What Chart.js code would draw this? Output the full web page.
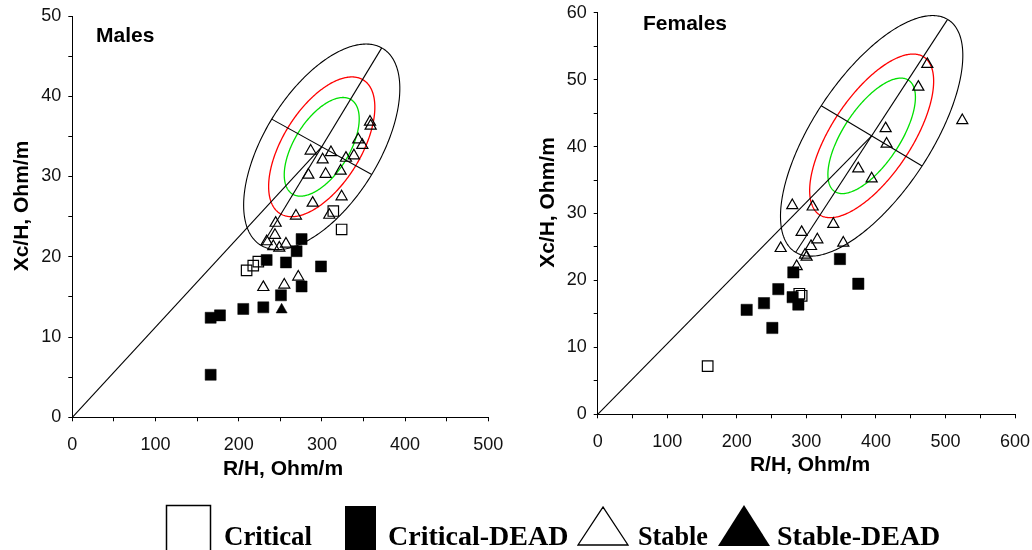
<!DOCTYPE html>
<html>
<head>
<meta charset="utf-8">
<script src="https://cdn.jsdelivr.net/npm/chart.js@4.4.0/dist/chart.umd.min.js"></script>
<style>
html,body{margin:0;padding:0;background:#fff;}
#wrap{position:relative;width:1032px;height:550px;overflow:hidden;background:#fff;}
#c1box{position:absolute;left:0;top:0;width:516px;height:490px;}
#c2box{position:absolute;left:516px;top:0;width:516px;height:490px;}
#legend{position:absolute;left:0;top:0;}
</style>
</head>
<body>
<div id="wrap">
  <div id="c1box"><canvas id="c1"></canvas></div>
  <div id="c2box"><canvas id="c2"></canvas></div>
  <svg id="legend" width="1032" height="550" xmlns="http://www.w3.org/2000/svg">
    <g font-family="'Liberation Serif','Times New Roman',serif" font-weight="bold" font-size="28" fill="#000">
      <rect x="166.5" y="505.5" width="44" height="60" fill="none" stroke="#000" stroke-width="1.5"/>
      <text x="224" y="545" textLength="88" lengthAdjust="spacingAndGlyphs">Critical</text>
      <rect x="345" y="506" width="31" height="60" fill="#000"/>
      <text x="388" y="545">Critical-DEAD</text>
      <polygon points="603,507 578,545 628,545" fill="none" stroke="#000" stroke-width="1.3"/>
      <text x="638" y="545" textLength="70" lengthAdjust="spacingAndGlyphs">Stable</text>
      <polygon points="744,505 718,546 770,546" fill="#000"/>
      <text x="777" y="545">Stable-DEAD</text>
    </g>
  </svg>
</div>
<script>
// ---------- DATA ----------
// Males: [R/H, Xc/H]
const maleCritical = [[313.7,25.7],[323.7,23.4],[209.5,18.3],[217.5,18.9],[223.6,19.4]];
const maleCriticalDead = [[275.6,22.2],[269.6,20.7],[233.6,19.6],[256.8,19.3],[298.9,18.8],[275.6,16.3],[250.8,15.2],[229.6,13.7],[205.5,13.5],[177.5,12.7],[166.3,12.4],[166.3,5.3]];
const maleStable = [[357.8,36.8],[358.6,36.3],[343.7,34.6],[348.6,33.9],[286.5,33.2],[300.9,32.1],[310.9,33.0],[328.9,32.3],[338.5,32.6],[283.7,30.2],[304.5,30.3],[322.5,30.7],[323.7,27.5],[288.9,26.7],[268.8,25.1],[308.9,25.2],[244.4,24.2],[243.6,22.7],[233.6,21.9],[241.6,21.3],[248.8,21.1],[256.8,21.6],[229.6,16.2],[254.8,16.5],[271.6,17.5]];
const maleStableDead = [[251.6,13.4]];
// Females
const femaleCritical = [[158.1,7.2],[289.9,18.0],[293.2,17.7]];
const femaleCriticalDead = [[348.3,23.2],[281.3,21.2],[259.7,18.7],[374.7,19.5],[280.3,17.5],[288.5,16.4],[239.1,16.6],[214.2,15.6],[251.1,12.9]];
const femaleStable = [[473.9,52.3],[461.0,48.9],[524.2,43.9],[414.0,42.7],[415.4,40.4],[374.7,36.7],[393.9,35.2],[279.8,31.2],[309.1,31.0],[338.8,28.4],[293.2,27.2],[315.8,26.1],[353.1,25.6],[306.7,25.1],[263.1,24.8],[298.0,23.8],[300.4,23.5],[286.1,22.1]];
const femaleStableDead = [];
// Tolerance ellipses: mean vector and semi-axis vectors of the 95% ellipse (data units)
const maleMean = [299.8, 33.7];
const maleAxisMajor = [72.1, 12.33];
const maleAxisMinor = [60.1, -3.45];
const femaleMean = [393.9, 41.6];
const femaleAxisMajor = [109.2, 17.4];
const femaleAxisMinor = [72.5, -4.5];
const ellipseLevels = [1.0, 0.68, 0.48]; // 95%, 75%, 50%
const ellipseColors = ['#000000', '#ff0000', '#00e000'];
const seriesNames = ['Critical', 'Critical-DEAD', 'Stable', 'Stable-DEAD'];
const maleXTicks = [0, 500, 50];
const maleYTicks = [0, 50, 5];
const femaleXTicks = [0, 600, 50];
const femaleYTicks = [0, 60, 5];

// ---------- PLUGINS ----------
const bivaPlugin = {
  id: 'biva',
  beforeDatasetsDraw(chart, args, o) {
    const {ctx} = chart; const xs = chart.scales.x, ys = chart.scales.y;
    const P = (u, v) => [xs.getPixelForValue(u), ys.getPixelForValue(v)];
    ctx.save();
    ellipseLevels.forEach((k, i) => {
      ctx.beginPath();
      for (let s = 0; s <= 360; s++) {
        const t = s * Math.PI / 180;
        const u = o.mean[0] + k * (Math.cos(t) * o.major[0] + Math.sin(t) * o.minor[0]);
        const v = o.mean[1] + k * (Math.cos(t) * o.major[1] + Math.sin(t) * o.minor[1]);
        const [px, py] = P(u, v);
        if (s === 0) ctx.moveTo(px, py); else ctx.lineTo(px, py);
      }
      ctx.closePath();
      ctx.strokeStyle = ellipseColors[i];
      ctx.lineWidth = i === 0 ? 1.1 : 1.3;
      ctx.stroke();
    });
    ctx.strokeStyle = '#000'; ctx.lineWidth = 1.1;
    const seg = (a, b) => { ctx.beginPath(); const p = P(a[0], a[1]), q = P(b[0], b[1]); ctx.moveTo(p[0], p[1]); ctx.lineTo(q[0], q[1]); ctx.stroke(); };
    seg([0, 0], o.mean);
    seg([o.mean[0] - o.major[0], o.mean[1] - o.major[1]], [o.mean[0] + o.major[0], o.mean[1] + o.major[1]]);
    seg([o.mean[0] - o.minor[0], o.mean[1] - o.minor[1]], [o.mean[0] + o.minor[0], o.mean[1] + o.minor[1]]);
    ctx.restore();
  }
};
const textPlugin = {
  id: 'texts',
  afterDraw(chart, args, o) {
    const {ctx} = chart;
    ctx.save();
    ctx.fillStyle = '#000';
    o.items.forEach(it => {
      ctx.save();
      ctx.font = it.font;
      ctx.textAlign = it.align || 'left';
      ctx.textBaseline = 'alphabetic';
      ctx.translate(it.x, it.y);
      if (it.rot) ctx.rotate(it.rot);
      ctx.fillText(it.text, 0, 0);
      ctx.restore();
    });
    ctx.restore();
  }
};

const toXY = arr => arr.map(p => ({x: p[0], y: p[1]}));
function makeDatasets(crit, critDead, stab, stabDead, sq) {
  return [
    {label: seriesNames[0], data: toXY(crit), pointStyle: 'rect', pointRadius: sq[0], backgroundColor: 'rgba(0,0,0,0)', borderColor: '#000', borderWidth: 1.2},
    {label: seriesNames[1], data: toXY(critDead), pointStyle: 'rect', pointRadius: sq[1], backgroundColor: '#000', borderColor: '#000', borderWidth: 0.5},
    {label: seriesNames[2], data: toXY(stab), pointStyle: 'triangle', pointRadius: 6.4, backgroundColor: 'rgba(0,0,0,0)', borderColor: '#000', borderWidth: 1.2},
    {label: seriesNames[3], data: toXY(stabDead), pointStyle: 'triangle', pointRadius: 6.4, backgroundColor: '#000', borderColor: '#000', borderWidth: 0.5}
  ];
}
const FONT = "'Liberation Sans', Arial, sans-serif";
function axisCfg(t, isX, fixed) {
  return {
    type: 'linear', min: t[0], max: t[1],
    ticks: {stepSize: t[2], color: '#111', font: {family: FONT, size: 18}, padding: isX ? 13 : 7,
      maxRotation: 0, minRotation: 0, autoSkip: false,
      callback: v => (v % (t[2] * 2) === 0 ? String(v) : '')},
    grid: {drawOnChartArea: false, drawTicks: true, tickLength: 4, color: '#000', lineWidth: 1},
    border: {display: true, color: '#000', width: 1},
    afterFit: s => {
      if (isX) { s.height = fixed; s.paddingLeft = 0; s.paddingRight = 0; }
      else { s.width = fixed; s.paddingTop = 0; s.paddingBottom = 0; }
    }
  };
}
function makeChart(id, datasets, xt, yt, yWidth, xHeight, pad, biva, texts) {
  return new Chart(document.getElementById(id), {
    type: 'scatter',
    data: {datasets},
    options: {
      responsive: true, maintainAspectRatio: false, animation: false, events: [],
      layout: {padding: pad},
      scales: {x: axisCfg(xt, true, xHeight), y: axisCfg(yt, false, yWidth)},
      plugins: {legend: {display: false}, tooltip: {enabled: false}, biva, texts: {items: texts}}
    },
    plugins: [bivaPlugin, textPlugin]
  });
}
const TF = "bold 21px " + FONT;
makeChart('c1', makeDatasets(maleCritical, maleCriticalDead, maleStable, maleStableDead, [7.4, 7.8]),
  maleXTicks, maleYTicks, 72.3, 490 - 417.3, {left: 0, top: 16, right: 516 - 488.3, bottom: 0},
  {mean: maleMean, major: maleAxisMajor, minor: maleAxisMinor},
  [
    {text: 'Males', x: 96, y: 42, font: TF},
    {text: 'R/H, Ohm/m', x: 283, y: 475, font: TF, align: 'center'},
    {text: 'Xc/H, Ohm/m', x: 28, y: 206, font: TF, align: 'center', rot: -Math.PI / 2}
  ]);
makeChart('c2', makeDatasets(femaleCritical, femaleCriticalDead, femaleStable, femaleStableDead, [7.5, 8.0]),
  femaleXTicks, femaleYTicks, 81.7, 490 - 414.3, {left: 0, top: 12.7, right: 516 - 499, bottom: 0},
  {mean: femaleMean, major: femaleAxisMajor, minor: femaleAxisMinor},
  [
    {text: 'Females', x: 127, y: 29.5, font: TF},
    {text: 'R/H, Ohm/m', x: 294, y: 471, font: TF, align: 'center'},
    {text: 'Xc/H, Ohm/m', x: 37.5, y: 202.5, font: TF, align: 'center', rot: -Math.PI / 2}
  ]);
</script>
</body>
</html>
